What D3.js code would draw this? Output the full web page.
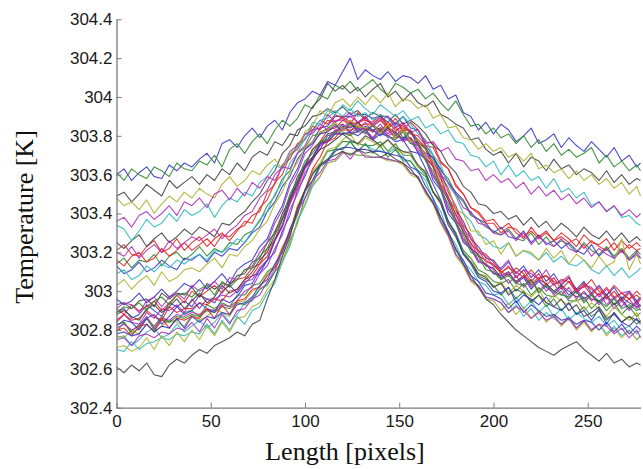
<!DOCTYPE html>
<html><head><meta charset="utf-8">
<script src="https://cdn.jsdelivr.net/npm/d3@7"></script>
<style>body{margin:0;background:#fff}</style></head>
<body>
<svg id="chart" width="643" height="469"></svg>
<script>
// x positions along the profile (pixels)
const lengthPx = [0,4,8,12,16,20,24,28,32,36,40,44,48,52,56,60,64,68,72,76,80,84,88,92,96,100,104,108,112,116,120,124,128,132,136,140,144,148,152,156,160,164,168,172,176,180,184,188,192,196,200,204,208,212,216,220,224,228,232,236,240,244,248,252,256,260,264,268,272,276,278];
const xTicks = [0,50,100,150,200,250];
const yTicks = [302.4,302.6,302.8,303,303.2,303.4,303.6,303.8,304,304.2,304.4];
const yTickLabels = ["302.4","302.6","302.8","303","303.2","303.4","303.6","303.8","304","304.2","304.4"];
const BASE_K = 302;          // series values below are in 0.01 K above BASE_K

// warm profiles
const sA1 = [160,163,157,161,164,159,158,165,162,166, 164,168,171,166,176,178,174,180,184,179, 185,188,183,192,197,199,203,201,208,206, 213,220,209,214,211,209,213,208,211,210, 207,211,204,206,199,201,192,190,183,187, 181,186,183,177,180,184,176,178,181,174, 179,175,172,177,173,169,174,167,170,164, 166];
const sA2 = [161,157,163,160,158,164,162,159,166,163, 162,167,165,170,164,173,176,171,177,181, 176,183,188,185,189,196,194,201,199,206, 204,208,203,206,209,204,201,207,205,202, 204,199,202,197,193,198,191,185,186,181, 184,179,181,176,180,174,178,172,176,170, 173,169,171,174,166,170,164,167,162,165, 162];
const sA3 = [149,151,146,150,155,152,149,157,153,156, 159,155,160,157,163,160,166,162,169,172, 170,177,175,181,180,188,195,199,207,203, 206,202,205,200,204,207,200,203,198,202, 197,195,198,191,189,186,184,178,179,173, 170,172,166,171,164,169,167,162,168,163, 165,160,163,161,157,162,156,160,155,158, 157];
const sA4 = [148,144,146,142,147,140,145,149,146,151, 148,153,150,148,155,159,154,157,162,160, 165,168,163,171,174,182,185,193,190,197, 199,195,200,196,201,197,202,195,199,198, 194,196,189,191,184,185,179,178,173,176, 172,174,169,171,167,171,163,165,161,163, 158,162,157,160,155,158,153,156,150,154, 149];
const sA5 = [134,132,126,131,137,133,135,140,136,142, 139,141,145,138,144,148,146,151,149,156, 159,165,163,170,174,178,187,186,193,191, 196,193,198,194,191,196,193,190,193,188, 190,184,186,181,183,177,176,170,169,164, 167,160,165,159,162,157,159,153,158,151, 153,148,151,144,146,141,144,138,139,135, 134];
const sA6 = [136,138,133,139,141,137,140,144,139,146, 144,148,143,150,152,147,153,149,156,153, 159,157,164,163,171,175,183,184,191,187, 189,192,187,190,185,188,190,184,187,182, 183,176,177,172,174,168,167,162,163,157, 160,156,158,153,156,150,154,149,152,147, 150,145,148,143,146,141,144,139,142,138, 140];
// middle profiles
const sB1 = [121,124,119,118,123,126,120,122,127,121, 125,128,123,127,130,126,131,136,135,143, 147,156,160,170,173,181,183,188,186,191, 189,186,192,188,187,191,185,189,183,187, 183,177,176,167,163,155,150,143,141,136, 137,132,135,130,127,133,128,131,126,130, 127,123,129,125,124,127,121,126,122,125, 123];
const sB2 = [114,117,112,116,115,119,113,118,120,116, 119,123,118,122,120,125,124,129,131,136, 144,149,158,162,171,174,180,181,184,186, 183,186,184,181,186,182,185,180,179,183, 176,174,168,162,158,150,146,139,137,133, 131,129,132,127,126,130,124,128,123,126, 124,120,125,121,119,123,118,122,117,121, 119];
const sB3 = [113,109,111,115,110,112,116,113,111,117, 116,119,115,120,118,122,121,125,130,133, 141,146,154,159,168,173,176,181,182,185, 183,187,182,185,183,180,184,181,178,182, 175,171,169,163,156,151,147,140,137,135, 130,133,128,127,131,125,129,124,126,122, 125,121,119,124,118,122,117,121,116,119, 117];
const sB4 = [125,122,126,129,123,127,130,125,128,132, 129,133,131,128,135,134,138,141,146,150, 157,162,171,175,183,185,190,191,194,192, 195,191,193,189,192,190,187,191,186,188, 185,181,175,172,165,161,154,151,145,144, 140,141,137,139,134,138,133,136,131,135, 132,128,133,129,127,131,126,130,125,128, 126];
const sB5 = [116,113,118,120,115,117,122,118,121,125, 121,124,127,123,129,128,132,134,139,141, 151,155,165,168,176,178,185,183,188,187, 190,187,186,190,185,188,184,182,186,181, 180,175,174,166,163,154,150,143,140,135, 135,130,133,132,128,131,127,130,126,128, 125,127,122,126,123,121,125,120,124,121, 122];
const sB6 = [120,118,123,117,121,124,120,126,122,125, 128,126,129,132,127,131,134,139,141,148, 152,160,164,172,175,181,181,186,183,185, 186,181,184,183,179,184,180,182,177,179, 175,170,167,160,156,150,143,141,135,134, 130,129,131,126,130,124,128,125,123,127, 122,120,124,118,122,119,117,121,116,120, 117];
const sB7 = [109,111,106,108,113,110,114,112,116,114, 117,119,116,121,120,123,127,125,131,137, 141,150,156,166,171,179,182,188,189,193, 190,194,190,192,188,191,189,185,190,186, 181,178,170,165,155,149,140,136,129,127, 123,122,125,118,121,119,116,120,115,118, 114,113,116,111,109,113,108,112,107,110, 112];
const sB8 = [103,106,101,105,108,103,110,105,107,111, 112,110,114,117,112,119,118,123,126,132, 136,145,151,161,166,174,177,182,183,187, 183,188,185,184,186,181,186,179,184,177, 178,169,167,156,153,142,140,131,131,124, 126,119,125,118,121,120,116,122,117,121, 114,119,116,112,118,113,115,127,111,119, 114];
// cool profiles
const sC1 = [89,91,86,88,93,90,87,94,92,95, 92,98,96,94,100,103,99,104,108,109, 116,120,131,139,152,159,169,173,180,181, 185,184,187,183,185,181,184,182,178,179, 171,168,157,152,140,135,125,122,115,114, 109,108,110,104,107,101,105,102,99,103, 98,101,96,99,94,98,93,96,91,95, 92];
const sC2 = [83,84,79,83,86,82,87,84,85,89, 90,87,93,91,94,92,98,98,103,104, 110,113,122,130,143,151,161,165,172,173, 177,177,176,175,175,177,172,176,170,170, 164,160,151,146,136,130,121,117,111,109, 105,104,106,100,104,98,102,98,97,100, 95,95,97,91,95,90,94,88,92,87, 89];
const sC3 = [91,88,93,90,92,95,90,94,98,94, 100,97,100,103,99,104,106,107,112,114, 122,126,137,145,157,164,173,177,183,184, 188,186,187,188,186,189,184,187,183,183, 177,173,164,158,147,140,130,125,118,116, 113,110,108,112,109,104,107,108,103,106, 105,101,102,106,100,98,103,99,96,100, 98];
const sC4 = [76,77,72,75,79,81,76,78,83,79, 82,85,81,84,89,84,88,94,95,101, 104,112,118,130,139,151,157,165,168,173, 173,177,172,176,173,172,171,174,168,167, 161,157,147,141,130,124,115,111,105,103, 98,99,93,97,91,95,89,93,87,91, 85,89,86,84,87,82,85,80,82,78, 80];
const sC5 = [85,88,84,83,89,86,91,90,93,89, 96,91,96,96,98,97,100,105,106,112, 116,126,133,145,153,163,168,175,177,181, 181,181,182,182,178,183,179,179,179,177, 172,168,159,153,142,136,126,122,115,114, 109,109,104,108,102,106,100,104,98,102, 96,100,95,98,93,97,91,95,90,94, 90];
const sC6 = [77,76,80,78,83,79,82,85,84,82, 88,85,87,91,89,87,94,95,100,102, 109,113,123,131,144,152,162,166,173,174, 178,181,175,179,177,174,178,173,171,172, 164,162,151,147,135,130,119,117,109,108, 102,105,99,103,100,97,101,94,98,95, 93,96,90,94,91,87,92,88,85,89, 84];
const sC7 = [93,94,91,95,96,92,99,96,99,98, 102,97,104,101,104,103,108,109,115,117, 125,130,140,148,159,165,173,176,181,182, 186,182,187,183,183,184,184,180,184,178, 177,169,164,154,147,137,131,122,119,113, 112,107,109,105,108,103,106,104,100,103, 100,97,99,96,95,98,93,97,94,92, 93];
const sC8 = [96,93,95,99,94,97,101,97,100,104, 102,106,101,105,109,104,111,114,116,123, 127,137,144,156,163,173,177,184,185,190, 190,190,191,191,189,190,190,186,190,184, 183,175,170,160,153,142,136,127,123,117, 116,111,115,109,113,107,111,105,109,103, 107,101,105,99,103,98,102,96,100,95, 97];
const sC9 = [79,84,78,81,86,80,85,84,87,86, 88,87,90,89,92,91,94,93,96,101, 103,110,115,126,135,148,155,164,167,173, 173,177,172,176,171,175,169,173,167,167, 162,159,151,146,136,130,120,115,108,106, 103,98,102,96,100,94,98,92,96,90, 94,88,92,87,90,85,89,84,87,83, 85];
const sC10 = [84,88,85,86,90,87,85,92,89,91, 91,94,93,96,95,100,101,106,108,114, 118,127,134,146,154,164,169,176,178,183, 183,183,184,184,182,183,183,179,183,178, 176,169,164,155,149,139,133,124,121,115, 114,109,113,107,111,105,109,103,107,101, 105,99,103,98,102,96,100,95,99,94, 96];
const sC11 = [70,69,74,70,73,74,76,75,78,77, 79,78,83,78,85,80,87,83,90,92, 99,104,115,123,136,144,154,159,166,167, 171,171,170,170,169,169,168,167,166,161, 159,151,146,136,129,119,114,106,103,97, 96,94,89,93,87,91,85,89,86,83, 87,81,85,80,83,78,82,77,80,75, 77];
const sC12 = [81,83,80,82,87,81,86,85,88,87, 89,88,91,90,93,92,95,100,102,109, 113,122,129,142,150,161,167,175,178,183, 184,188,183,187,182,186,181,185,179,179, 173,169,160,154,143,137,127,123,116,114, 111,106,110,104,108,102,106,100,104,98, 102,96,100,95,99,93,97,92,96,91, 93];
const sC13 = [71,72,69,71,76,70,77,72,79,74, 80,75,82,77,84,79,86,87,92,94, 101,106,116,124,137,145,155,159,166,167, 171,171,170,170,169,169,167,167,165,160, 158,150,145,135,128,118,113,105,102,96, 95,90,94,88,92,86,90,84,88,82, 86,80,84,79,83,77,81,76,80,75, 77];
const sC14 = [88,90,87,85,91,93,89,92,96,91, 95,99,94,97,103,99,101,106,110,116, 120,129,137,148,156,164,168,173,175,178, 181,178,176,180,178,175,178,174,172,171, 165,161,151,145,134,128,119,115,109,107, 102,104,98,101,99,95,98,94,92,96, 90,93,87,89,92,86,88,84,87,85, 84];
const sC15 = [82,85,84,80,86,88,83,87,92,88, 90,94,91,89,96,94,97,103,104,111, 116,126,134,147,155,165,169,176,177,181, 181,182,180,183,178,181,180,177,178,172, 171,163,155,147,136,129,119,114,107,105, 100,99,102,94,98,96,93,97,92,90, 94,88,90,85,91,83,89,84,82,86, 83];
const sC16 = [91,94,93,89,95,97,92,97,99,96, 103,100,102,105,101,107,106,111,113,120, 125,135,142,154,161,171,175,182,183,188, 188,190,187,189,186,190,185,186,185,182, 178,174,165,159,148,142,132,127,120,118, 113,112,116,107,111,109,106,111,104,105, 108,99,103,102,97,101,96,99,100,93, 96];
const sC17 = [89,92,91,94,90,95,97,93,98,99, 97,101,103,98,105,102,106,111,112,118, 122,131,138,150,157,167,171,177,178,182, 182,180,183,183,179,184,180,178,182,176, 175,167,162,152,145,135,129,120,118,111, 110,106,108,104,103,106,99,103,100,98, 97,100,94,98,95,92,96,91,93,90, 91];
const sC18 = [80,81,77,82,83,79,86,81,86,85, 87,86,91,86,93,88,95,96,101,102, 108,112,122,130,143,152,163,169,177,179, 184,185,185,186,186,182,187,183,184,182, 177,174,166,161,151,144,134,129,121,119, 115,110,112,110,107,111,106,108,105,104, 107,100,104,101,98,102,97,99,96,98, 96];
const sC19 = [78,79,77,78,83,79,82,81,86,81, 87,84,87,86,89,88,93,94,97,103, 106,114,120,132,140,152,157,165,167,172, 174,174,173,173,172,172,171,170,169,164, 162,154,148,138,131,121,116,108,105,99, 98,96,91,95,89,93,90,87,88,85, 86,83,85,84,80,84,79,83,78,82, 80];
const sC20 = [75,76,72,77,78,76,79,78,81,80, 84,79,86,81,88,83,90,91,96,98, 105,110,121,129,141,148,157,161,167,168, 172,168,173,169,169,169,168,167,166,161, 159,151,146,136,129,119,114,106,103,97, 96,94,89,92,90,86,89,85,87,83, 86,81,85,80,83,82,78,81,76,80, 76];
// coldest profile
const sD1 = [61,58,62,59,63,57,56,62,65,63, 67,70,68,72,74,76,79,77,83,85, 96,106,118,128,142,152,160,165,168,170, 172,170,173,171,172,169,171,168,166,163, 158,152,145,138,130,122,114,108,102,96, 93,88,84,80,77,74,71,69,67,70, 72,74,70,67,64,68,63,65,61,63, 62];

const seriesList = [sC1,sC2,sC3,sC4,sC5,sC6,sC7,sC8,sC9,sC10,sC11,sC12,sC13,sC14,sC15,sC16,sC17,sC18,sC19,sC20,sD1,
                    sB1,sB2,sB3,sB4,sB5,sB6,sB7,sB8,sA1,sA2,sA3,sA4,sA5,sA6];
const BLUE="#3838c8", GREEN="#2f8a2f", RED="#e02828", CYAN="#30b8c0", MAG="#b030b8", OLIVE="#b0b030", GREY="#454545";
const seriesColors = [BLUE,GREEN,RED,CYAN,MAG,OLIVE,GREY,BLUE,GREEN,RED,CYAN,MAG,OLIVE,GREY,BLUE,MAG,GREEN,RED,BLUE,MAG,GREY,
                      RED,GREEN,BLUE,GREY,RED,MAG,CYAN,OLIVE,BLUE,GREEN,GREY,OLIVE,CYAN,MAG];

const svg = d3.select("#chart");
const x = d3.scaleLinear().domain([0,278]).range([116.5,640.5]);
const y = d3.scaleLinear().domain([302.4,304.4]).range([407.7,19.3]);

const line = d3.line()
  .defined((d,i)=>i < lengthPx.length)
  .x((d,i)=>x(lengthPx[i]))
  .y(d=>y(BASE_K + d/100));

svg.append("g").selectAll("path").data(seriesList).join("path")
  .attr("d", line)
  .attr("fill","none")
  .attr("stroke",(d,i)=>seriesColors[i])
  .attr("stroke-width",1.1)
  .attr("stroke-linejoin","round")
  .attr("opacity",0.9);

const axisColor = "#7a7a7a";
const gy = svg.append("g").attr("transform","translate(116.5,0)")
  .call(d3.axisLeft(y).tickValues(yTicks).tickFormat((d,i)=>yTickLabels[i]).tickSizeInner(-5).tickSizeOuter(0).tickPadding(4));
const gx = svg.append("g").attr("transform","translate(0,407.7)")
  .call(d3.axisBottom(x).tickValues(xTicks).tickFormat(d=>String(d)).tickSizeInner(-5).tickSizeOuter(0).tickPadding(7));
[gx,gy].forEach(g=>{
  g.select(".domain").attr("stroke",axisColor).attr("stroke-width",1.3);
  g.selectAll(".tick line").attr("stroke",axisColor).attr("stroke-width",1);
  g.selectAll(".tick text").attr("fill","#1a1a1a").style("font-family","Arial, 'Liberation Sans', sans-serif").style("font-size","17px");
});

svg.append("text").attr("x",345).attr("y",460).attr("text-anchor","middle")
  .style("font-family","'Times New Roman','Liberation Serif',serif").style("font-size","26px").attr("fill","#111")
  .text("Length [pixels]");
svg.append("text").attr("transform","translate(33,217) rotate(-90)").attr("text-anchor","middle")
  .style("font-family","'Times New Roman','Liberation Serif',serif").style("font-size","26px").attr("fill","#111")
  .text("Temperature [K]");
</script>
</body></html>
